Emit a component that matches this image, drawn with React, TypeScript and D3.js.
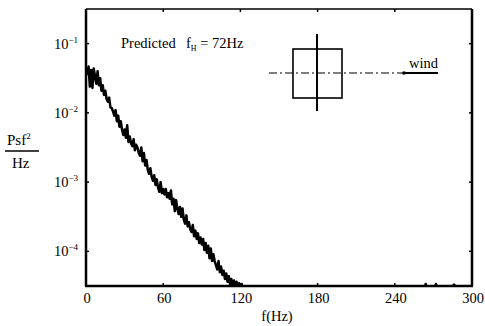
import * as d3 from "d3";

// frequency samples (Hz) and log10 of the spectrum
const freqs: number[] = d3.range(0, 123);
const logPsd: number[] = [
  -1.36, -1.44, -1.33, -1.62, -1.38, -1.64, -1.36, -1.47, -1.58, -1.4,
  -1.6, -1.5, -1.68, -1.6, -1.74, -1.68, -1.8, -1.84, -1.78, -1.92,
  -1.93, -1.98, -2.04, -1.96, -2.12, -2.04, -2.2, -2.12, -2.24, -2.32,
  -2.24, -2.36, -2.18, -2.42, -2.34, -2.44, -2.48, -2.38, -2.54, -2.46,
  -2.5, -2.58, -2.62, -2.5, -2.7, -2.58, -2.76, -2.68, -2.82, -2.88,
  -2.8, -2.92, -2.98, -2.9, -3.04, -2.96, -3.08, -3.14, -3.0, -3.16,
  -3.1, -3.18, -3.1, -3.22, -3.16, -3.24, -3.12, -3.32, -3.24, -3.42,
  -3.26, -3.38, -3.46, -3.36, -3.5, -3.38, -3.54, -3.6, -3.48, -3.64,
  -3.58, -3.68, -3.72, -3.62, -3.78, -3.7, -3.82, -3.74, -3.88, -3.8,
  -3.9, -3.82, -3.98, -3.88, -4.02, -3.92, -4.1, -3.96, -4.14, -4.04,
  -4.14, -4.2, -4.26, -4.14, -4.3, -4.22, -4.34, -4.28, -4.4, -4.32,
  -4.44, -4.36, -4.48, -4.4, -4.52, -4.42, -4.54, -4.44, -4.54, -4.46,
  -4.54, -4.47, -4.56,
];
// small blips along the floor at the high end
const tailFreqs: number[] = [123, 200, 262, 264, 266, 270, 272, 274, 280, 286, 292, 296, 300];
const tailLogPsd: number[] = [-4.6, -4.6, -4.6, -4.47, -4.6, -4.6, -4.47, -4.6, -4.6, -4.48, -4.6, -4.6, -4.6];

const xTicks: number[] = [0, 60, 120, 180, 240, 300];
const yTickExps: number[] = [-1, -2, -3, -4];

const font = "'Liberation Serif', 'DejaVu Serif', serif";

export default function App() {
  const width = 485;
  const height = 326;
  const left = 86, right = 472, top = 9, bottom = 286;

  const x = d3.scaleLinear().domain([0, 300]).range([left, right]);
  const y = d3.scaleLog().domain([Math.pow(10, -4.5), Math.pow(10, -0.5)]).range([bottom, top]);

  const pts = freqs.map((f, i) => [f, Math.pow(10, logPsd[i])] as [number, number])
    .concat(tailFreqs.map((f, i) => [f, Math.pow(10, tailLogPsd[i])] as [number, number]));

  const line = d3.line<[number, number]>()
    .x(d => x(d[0]))
    .y(d => y(d[1]));

  return (
    <svg width={width} height={height} style={{ position: "absolute", left: 0, top: 0, background: "#fff" }}>
      <defs>
        <clipPath id="plotClip">
          <rect x={left} y={top} width={right - left} height={bottom - top} />
        </clipPath>
      </defs>

      {/* spectrum trace */}
      <path d={line(pts) || ""} fill="none" stroke="#000" strokeWidth={2.5} strokeLinejoin="round" clipPath="url(#plotClip)" />

      {/* frame */}
      <line x1={left} y1={top} x2={right} y2={top} stroke="#000" strokeWidth={1.5} />
      <line x1={left} y1={top} x2={left} y2={bottom} stroke="#000" strokeWidth={2.5} />
      <line x1={right} y1={top} x2={right} y2={bottom} stroke="#000" strokeWidth={2.5} />
      <line x1={left - 1} y1={bottom} x2={right + 1} y2={bottom} stroke="#000" strokeWidth={2.5} />

      {/* x ticks (inward, top and bottom) */}
      {xTicks.map(t => (
        <g key={"xt" + t}>
          <line x1={x(t)} y1={bottom} x2={x(t)} y2={bottom - 3} stroke="#000" strokeWidth={1.5} />
          <line x1={x(t)} y1={top} x2={x(t)} y2={top + 3} stroke="#000" strokeWidth={1.5} />
          <text x={x(t) + 1} y={303} textAnchor="middle" fontFamily={font} fontSize={14.5}>{t}</text>
        </g>
      ))}

      {/* y ticks (inward, left and right) */}
      {yTickExps.map(e => (
        <g key={"yt" + e}>
          <line x1={left} y1={y(Math.pow(10, e))} x2={left + 3} y2={y(Math.pow(10, e))} stroke="#000" strokeWidth={1.5} />
          <line x1={right} y1={y(Math.pow(10, e))} x2={right - 3} y2={y(Math.pow(10, e))} stroke="#000" strokeWidth={1.5} />
          <text x={54} y={y(Math.pow(10, e)) + 5} fontFamily={font} fontSize={14.5}>
            10<tspan dy={-6} fontSize={9}>{"\u2212" + Math.abs(e)}</tspan>
          </text>
        </g>
      ))}

      {/* axis titles */}
      <text x={277} y={321} textAnchor="middle" fontFamily={font} fontSize={14.5}>f(Hz)</text>
      <text x={7} y={145} fontFamily={font} fontSize={15}>
        Psf<tspan dy={-6} fontSize={9}>2</tspan>
      </text>
      <line x1={5} y1={151} x2={39} y2={151} stroke="#000" strokeWidth={1.3} />
      <text x={12} y={168} fontFamily={font} fontSize={15}>Hz</text>

      {/* annotation */}
      <text x={121} y={48} fontFamily={font} fontSize={14.5}>
        Predicted
        <tspan x={186}>f</tspan>
        <tspan dy={3} fontSize={8}>H</tspan>
        <tspan dy={-3}> = 72Hz</tspan>
      </text>

      {/* inset: square with wind direction */}
      <rect x={293} y={49} width={49} height={49} fill="none" stroke="#000" strokeWidth={1.6} />
      <line x1={317} y1={34} x2={317} y2={111} stroke="#000" strokeWidth={2} />
      <line x1={269} y1={73} x2={403} y2={73} stroke="#000" strokeWidth={1.2} strokeDasharray="8,3,2,3" />
      <circle cx={404} cy={73} r={1.8} fill="#000" />
      <line x1={404} y1={73} x2={438} y2={73} stroke="#000" strokeWidth={1.8} />
      <text x={409} y={68} fontFamily={font} fontSize={14.5}>wind</text>
    </svg>
  );
}
